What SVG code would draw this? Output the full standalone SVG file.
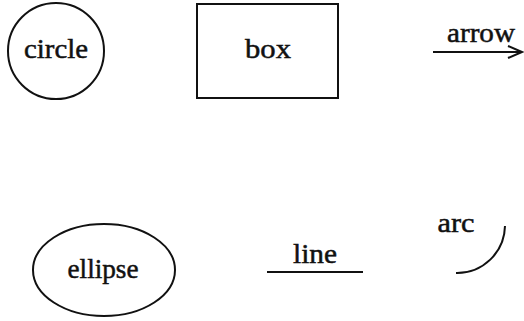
<svg xmlns="http://www.w3.org/2000/svg" width="524" height="321" viewBox="0 0 524 321">
<style>
.s{fill:none;stroke:#111;stroke-width:2}
.t{font-family:"Liberation Serif","Times New Roman",serif;font-size:28px;fill:#111;stroke:#111;stroke-width:0.5;text-anchor:middle}
</style>
<rect width="524" height="321" fill="#fff"/>
<g id="circle">
<circle class="s" cx="56" cy="51" r="48"/>
<text class="t" x="56" y="58" textLength="64" lengthAdjust="spacingAndGlyphs">circle</text>
</g>
<g id="box">
<rect class="s" x="197" y="4" width="141" height="94"/>
<text class="t" x="268" y="58" textLength="46" lengthAdjust="spacingAndGlyphs">box</text>
</g>
<g id="ellipse">
<ellipse class="s" cx="104" cy="270" rx="71" ry="46"/>
<text class="t" x="103" y="278" textLength="71" lengthAdjust="spacingAndGlyphs">ellipse</text>
</g>
<g id="labels">
<text class="t" x="481" y="42" textLength="68" lengthAdjust="spacingAndGlyphs">arrow</text>
<text class="t" x="315" y="263" textLength="44" lengthAdjust="spacingAndGlyphs">line</text>
<text class="t" x="456" y="232" textLength="37" lengthAdjust="spacingAndGlyphs">arc</text>
</g>
<g id="connectors">
<line class="s" x1="433" y1="52" x2="522" y2="52"/>
<polyline class="s" points="508,46 522,52 508,58" stroke-linejoin="miter"/>
<line class="s" x1="267" y1="272" x2="363" y2="272" stroke-width="2.2"/>
<path class="s" d="M505,226 A48,48 0 0 1 456,273" stroke-width="2.5"/>
</g>
</svg>
